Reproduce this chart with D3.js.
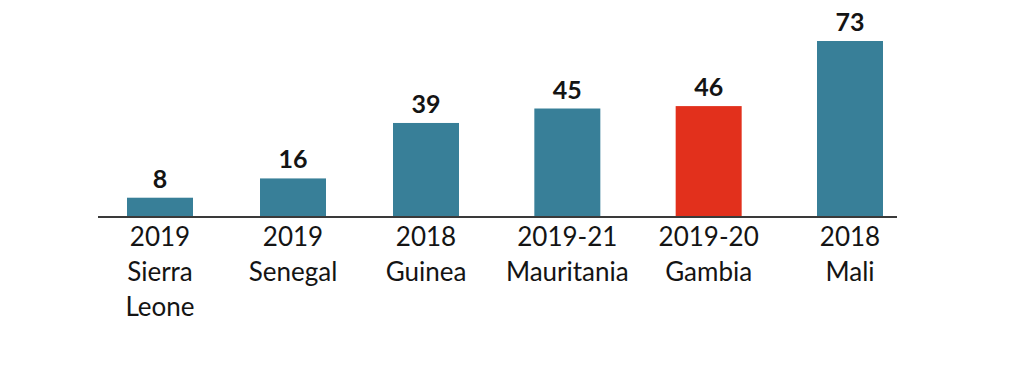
<!DOCTYPE html>
<html>
<head>
<meta charset="utf-8">
<script src="https://cdn.jsdelivr.net/npm/d3@7"></script>
<style>
  body { margin: 0; background: #fff; }
  #chart { width: 1024px; height: 373px; }
</style>
</head>
<body>
<div id="chart"></div>
<script>
// data
const years = ["2019", "2019", "2018", "2019-21", "2019-20", "2018"];
const countries = [["Sierra", "Leone"], ["Senegal"], ["Guinea"], ["Mauritania"], ["Gambia"], ["Mali"]];
const values = [8, 16, 39, 45, 46, 73];
const highlight = "Gambia";

const colors = {
    bar: "#387f98",
    hi: "#e2301c",
    text: "#141414",
    axis: "#3a3a3a"
};

const width = 1024, height = 373;
const svg = d3.select("#chart").append("svg")
    .attr("width", width).attr("height", height);

const baseY = 217;
const idx = d3.range(values.length);

// bar centres - the source spacing widens a bit after the third bar
const x = d3.scaleLinear()
    .domain([0, 2, 5])
    .range([160, 426, 850]);
const barW = 66;

const y = d3.scaleLinear()
    .domain([0, 73])
    .range([baseY, 41]);

// bars
svg.selectAll(".bar")
    .data(idx)
    .enter().append("rect")
    .attr("class", "bar")
    .attr("x", i => x(i) - barW / 2)
    .attr("y", i => y(values[i]))
    .attr("width", barW)
    .attr("height", i => baseY - y(values[i]))
    .attr("fill", i => countries[i][0] === highlight ? colors.hi : colors.bar);

// baseline
svg.append("line")
    .attr("x1", 98).attr("x2", 897)
    .attr("y1", baseY).attr("y2", baseY)
    .attr("stroke", colors.axis)
    .attr("stroke-width", 2);

// value labels
svg.selectAll(".val")
    .data(idx)
    .enter().append("text")
    .attr("class", "val")
    .attr("x", i => x(i))
    .attr("y", i => y(values[i]) - 10)
    .attr("text-anchor", "middle")
    .attr("font-family", "Lato, sans-serif")
    .attr("font-weight", "bold")
    .attr("font-size", 25)
    .attr("fill", colors.text)
    .text(i => values[i]);

// category labels: year on first line, country below
const cat = svg.selectAll(".cat")
    .data(idx)
    .enter().append("text")
    .attr("class", "cat")
    .attr("text-anchor", "middle")
    .attr("font-family", "Lato, sans-serif")
    .attr("font-size", 26)
    .attr("fill", colors.text);

cat.each(function(i) {
    const lines = [years[i]].concat(countries[i]);
    d3.select(this).selectAll("tspan")
        .data(lines)
        .enter().append("tspan")
        .attr("x", x(i))
        .attr("y", (d, k) => baseY + 29 + k * 35)
        .text(d => d);
});
</script>
</body>
</html>
